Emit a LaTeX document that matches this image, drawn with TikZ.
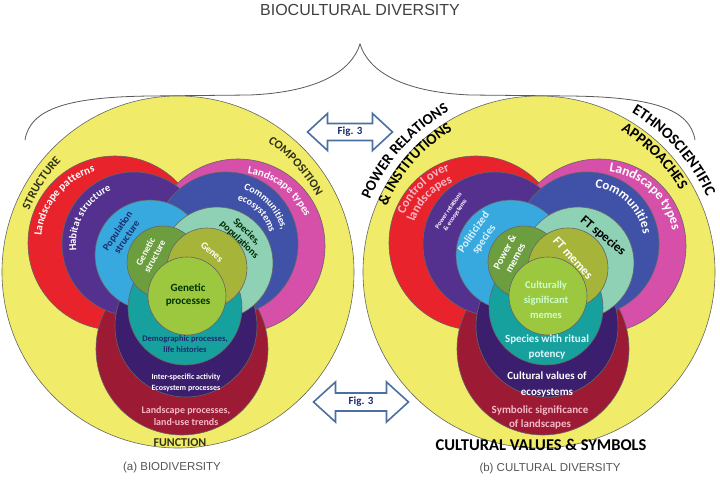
\documentclass[tikz,border=0pt]{standalone}
\usepackage{fontspec}
\setmainfont{Carlito}
\newfontfamily\capfont{Liberation Sans}
\usetikzlibrary{decorations.text}
\definecolor{yellowc}{HTML}{F0EB68}
\definecolor{redc}{HTML}{E8232B}
\definecolor{magc}{HTML}{D64FA9}
\definecolor{purc}{HTML}{54308F}
\definecolor{bluec}{HTML}{4051A8}
\definecolor{ltbluec}{HTML}{38A9DF}
\definecolor{mintc}{HTML}{8ED1B5}
\definecolor{olgc}{HTML}{6C9E3F}
\definecolor{olivec}{HTML}{A7B43A}
\definecolor{lgreenc}{HTML}{9BC83E}
\definecolor{dredc}{HTML}{9C1A33}
\definecolor{navyc}{HTML}{3B1F6E}
\definecolor{tealc}{HTML}{16A09E}
\definecolor{darkolive}{HTML}{32321A}
\definecolor{pinktxt}{HTML}{F7B8C8}
\definecolor{navytxt}{HTML}{1D2B6E}
\definecolor{arrowblue}{HTML}{4A6FA0}
\definecolor{capgray}{HTML}{555555}
\newcommand{\curvelabel}[5]{\path[decorate,decoration={text along path,text align=center,text={|#4|#5}}] (#1) ++(#3+80:#2) arc[start angle=#3+80,end angle=#3-80,radius=#2];}
\newcommand{\drawrings}{%
  \draw[ring,fill=yellowc] (178,208) circle[radius=176];
  \draw[ring,fill=redc] (115,237) circle[radius=87];
  \draw[ring,fill=magc] (238,234) circle[radius=87];
  \draw[ring,fill=dredc] (182,131) circle[radius=86];
  \draw[ring,fill=purc] (134,236) circle[radius=72];
  \draw[ring,fill=bluec] (226,236) circle[radius=72];
  \draw[ring,fill=navyc] (186,154) circle[radius=71];
  \draw[ring,fill=ltbluec] (150,225) circle[radius=55];
  \draw[ring,fill=mintc] (217,217) circle[radius=56];
  \draw[ring,fill=tealc] (185,172) circle[radius=57];
  \draw[ring,fill=olgc] (163,218) circle[radius=36];
  \draw[ring,fill=olivec] (207,212) circle[radius=40];
  \draw[ring,fill=lgreenc] (187,184) circle[radius=39];
}
\begin{document}
\begin{tikzpicture}[x=1pt,y=1pt,
  ring/.style={draw=black!60,line width=0.6pt},
  lab/.style 2 args={font=\bfseries\fontsize{#1}{#2}\selectfont,align=center,inner sep=0pt},
  captext/.style={font=\capfont\fontsize{11.5}{13}\selectfont,text=capgray,inner sep=0pt},
  arrowline/.style={draw=arrowblue,line width=1.6pt,fill=white,line join=miter},
  brace/.style={draw=black!65,line width=0.8pt}]
\useasboundingbox[fill=white] (0,0) rectangle (720,480);
% title and brace
\node[font=\capfont\fontsize{16}{18}\selectfont,text=black!75,inner sep=0pt] (title) at (360,470) {BIOCULTURAL DIVERSITY};
\draw[brace] (25,340) .. controls (30,372) and (70,383) .. (150,384) -- (250,385) .. controls (320,388) and (352,410) .. (360,436) .. controls (368,410) and (400,388) .. (470,385) -- (570,384) .. controls (650,383) and (690,372) .. (695,340);
% rings
\drawrings
\begin{scope}[xshift=361pt]
\drawrings
\end{scope}
% arrows
\coordinate (arrtop) at (350,348);
\coordinate (arrbot) at (361,78);
\draw[arrowline] (arrtop) ++(-42.5,0) -- ++(20,18.5) -- ++(0,-10) -- ++(45,0) -- ++(0,10) -- ++(20,-18.5) -- ++(-20,-18.5) -- ++(0,10) -- ++(-45,0) -- ++(0,-10) -- cycle;
\draw[arrowline] (arrbot) ++(-47.5,0) -- ++(22,20) -- ++(0,-11) -- ++(51,0) -- ++(0,11) -- ++(22,-20) -- ++(-22,-20) -- ++(0,11) -- ++(-51,0) -- ++(0,-11) -- cycle;
\node[lab={11}{13},text=navytxt] (figtop) at (arrtop) {Fig. 3};
\node[lab={11}{13},text=navytxt] (figbot) at (arrbot) {Fig. 3};
% ---------- left labels
\curvelabel{178,208}{161}{147}{\bfseries\fontsize{12}{14}\selectfont\color{darkolive}}{STRUCTURE}
\curvelabel{178,208}{158}{42}{\bfseries\fontsize{12}{14}\selectfont\color{darkolive}}{COMPOSITION}
\node[lab={12}{14},text=darkolive] (function) at (180,37) {FUNCTION};
\curvelabel{115,237}{74}{140}{\bfseries\fontsize{11}{13}\selectfont\color{white}}{Landscape patterns}
\curvelabel{134,236}{58}{150}{\bfseries\fontsize{10.5}{12}\selectfont\color{white}}{Habitat structure}
\node[lab={10}{11},text=navytxt,rotate=56] (popst) at (122,246) {Population\\structure};
\node[lab={9.5}{10.5},text=white,rotate=62] (genst) at (150,226) {Genetic\\structure};
\node[lab={10}{11},text=white,rotate=-40] (genes) at (212,228) {Genes};
\node[lab={11}{13},text=black!80!green] (genproc) at (188,185) {Genetic\\processes};
\node[lab={10}{11},text=black!85!green,rotate=-44] (specpop) at (243,244) {Species,\\populations};
\curvelabel{226,236}{57}{43}{\bfseries\fontsize{10}{12}\selectfont\color{white}}{Communities,}
\curvelabel{226,236}{45}{45}{\bfseries\fontsize{10}{12}\selectfont\color{white}}{ecosystems}
\curvelabel{238,234}{73}{53}{\bfseries\fontsize{11}{13}\selectfont\color{white}}{Landscape types}
\node[lab={8.5}{10.5},text=navytxt] (demog) at (185,136) {Demographic processes,\\life histories};
\node[lab={8}{11},text=white] (inter) at (186,97.5) {Inter-specific activity\\Ecosystem processes};
\node[lab={10}{12},text=pinktxt] (landproc) at (186,64) {Landscape processes,\\land-use trends};
\node[captext] (capa) at (172,12) {(a) BIODIVERSITY};
% ---------- right labels
\curvelabel{539,208}{184}{138}{\bfseries\fontsize{15}{17}\selectfont\color{black}}{POWER RELATIONS}
\curvelabel{539,208}{166}{139}{\bfseries\fontsize{15}{17}\selectfont\color{black}}{{\&} INSTITUTIONS}
\curvelabel{539,208}{184}{42}{\bfseries\fontsize{15.5}{17}\selectfont\color{black}}{ETHNOSCIENTIFIC}
\curvelabel{539,208}{163}{45}{\bfseries\fontsize{15}{17}\selectfont\color{black}}{APPROACHES}
\curvelabel{476,237}{77}{134}{\bfseries\fontsize{12.5}{14}\selectfont\color{pinktxt}}{Control over}
\curvelabel{476,237}{65}{136}{\bfseries\fontsize{12.5}{14}\selectfont\color{pinktxt}}{landscapes}
\node[lab={6.5}{8},text=white,rotate=56] (powrel) at (452,267) {Power relations\\\& ecosystems};
\node[lab={11}{12.5},text=cyan!15,rotate=55] (polit) at (479,244) {Politicized\\species};
\node[lab={10.5}{12},text=white,rotate=62] (powmem) at (510,225) {Power \&\\memes};
\node[lab={12.5}{14},text=white,rotate=-48] (ftmem) at (573,222) {FT memes};
\node[lab={13}{15},text=black,rotate=-40] (ftspec) at (603,244) {FT species};
\curvelabel{587,236}{57}{46}{\bfseries\fontsize{13}{15}\selectfont\color{white}}{Communities}
\curvelabel{599,234}{75}{47}{\bfseries\fontsize{13.5}{15}\selectfont\color{white}}{Landscape types}
\node[lab={10.5}{15},text=green!20!white] (cultsig) at (546,180) {Culturally\\significant\\memes};
\node[lab={11}{15},text=cyan!10] (ritual) at (547,132.5) {Species with ritual\\potency};
\node[lab={11}{16},text=white] (cultval) at (547,95) {Cultural values of\\ecosystems};
\node[lab={11}{14},text=pinktxt] (symb) at (540,63) {Symbolic significance\\of landscapes};
\node[lab={16.5}{18},text=black] (cvs) at (541,35) {CULTURAL VALUES \& SYMBOLS};
\node[captext] (capb) at (550,11) {(b) CULTURAL DIVERSITY};
\end{tikzpicture}
\end{document}
